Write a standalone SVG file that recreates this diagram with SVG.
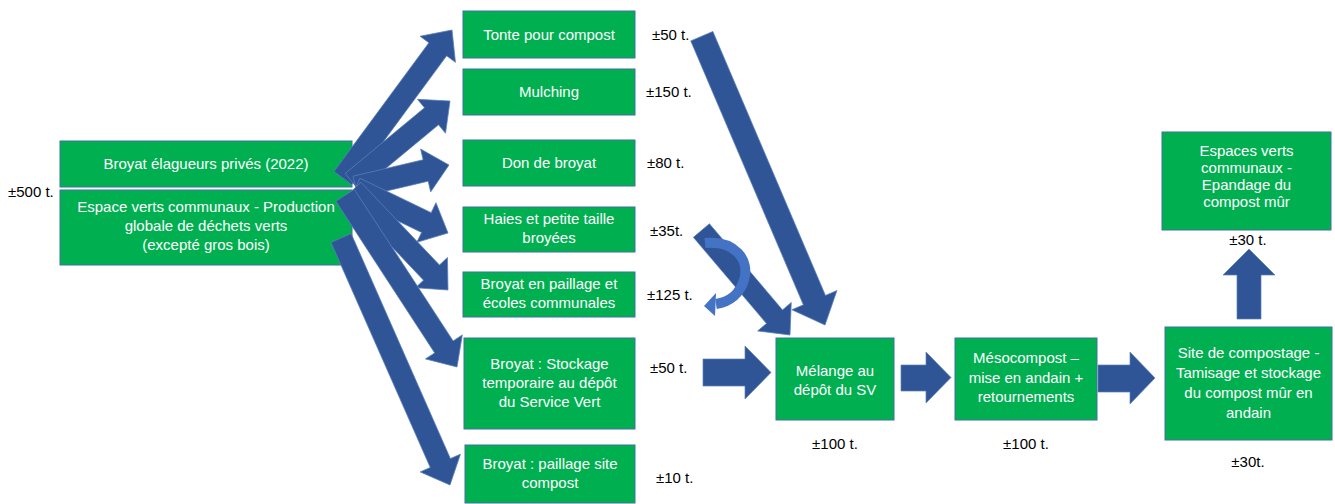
<svg xmlns="http://www.w3.org/2000/svg" width="1335" height="504" viewBox="0 0 1335 504">
<style>
.box{fill:#00b050;stroke:#41719c;stroke-width:1}
.bt{font-family:"Liberation Sans",Arial,sans-serif;font-size:15px;fill:#ffffff;text-anchor:middle}
.lb{font-family:"Liberation Sans",Arial,sans-serif;font-size:15px;fill:#000000}
.lbc{font-family:"Liberation Sans",Arial,sans-serif;font-size:15px;fill:#000000;text-anchor:middle}
.arr{fill:#2f5597;stroke:#5a7fba;stroke-width:0.7}
</style>
<rect width="1335" height="504" fill="#ffffff"/>

<g id="n-broyat-elagueurs"><rect class="box" x="60" y="141" width="292" height="46"/><text class="bt" x="206" y="169">Broyat élagueurs privés (2022)</text></g>
<g id="n-espace-verts"><rect class="box" x="60" y="190" width="292" height="75"/><text class="bt" x="206" y="212">Espace verts communaux  - Production</text><text class="bt" x="206" y="231">globale de déchets verts</text><text class="bt" x="206" y="250">(excepté gros bois)</text></g>
<text class="lb" x="8" y="197">±500 t.</text>

<g id="n-tonte"><rect class="box" x="463" y="11" width="172" height="47"/><text class="bt" x="549" y="40">Tonte pour compost</text></g>
<g id="n-mulching"><rect class="box" x="463" y="69" width="172" height="46"/><text class="bt" x="549" y="97">Mulching</text></g>
<g id="n-don"><rect class="box" x="463" y="140" width="172" height="46"/><text class="bt" x="549" y="168">Don de broyat</text></g>
<g id="n-haies"><rect class="box" x="463" y="207" width="172" height="45"/><text class="bt" x="549" y="224">Haies et petite taille</text><text class="bt" x="549" y="243">broyées</text></g>
<g id="n-paillage-ecoles"><rect class="box" x="463" y="272" width="172" height="45"/><text class="bt" x="549" y="289">Broyat en paillage et</text><text class="bt" x="549" y="308">écoles communales</text></g>
<g id="n-stockage"><rect class="box" x="464" y="338" width="171" height="91"/><text class="bt" x="549.5" y="369">Broyat : Stockage</text><text class="bt" x="549.5" y="388">temporaire au dépôt</text><text class="bt" x="549.5" y="407">du Service Vert</text></g>
<g id="n-paillage-site"><rect class="box" x="465" y="445" width="170" height="58"/><text class="bt" x="550" y="469">Broyat : paillage site</text><text class="bt" x="550" y="488">compost</text></g>

<text class="lb" x="652" y="40">±50 t.</text>
<text class="lb" x="646" y="97">±150 t.</text>
<text class="lb" x="647" y="168">±80 t.</text>
<text class="lb" x="650" y="236">±35t.</text>
<text class="lb" x="647" y="300">±125 t.</text>
<text class="lb" x="650" y="373">±50 t.</text>
<text class="lb" x="656" y="483">±10 t.</text>

<g id="n-melange"><rect class="box" x="776" y="338" width="118" height="82"/><text class="bt" x="835" y="376">Mélange au</text><text class="bt" x="835" y="395">dépôt du SV</text></g>
<text class="lbc" x="835" y="449">±100 t.</text>
<g id="n-meso"><rect class="box" x="955" y="338" width="142" height="82"/><text class="bt" x="1026" y="363">Mésocompost  –</text><text class="bt" x="1026" y="382.5">mise en andain +</text><text class="bt" x="1026" y="402">retournements</text></g>
<text class="lbc" x="1026" y="449">±100 t.</text>
<g id="n-site"><rect class="box" x="1165" y="327" width="167" height="113"/><text class="bt" x="1248.5" y="358">Site de compostage -</text><text class="bt" x="1248.5" y="378">Tamisage et stockage</text><text class="bt" x="1248.5" y="398">du compost mûr  en</text><text class="bt" x="1248.5" y="418">andain</text></g>
<text class="lbc" x="1248" y="467">±30t.</text>
<g id="n-espaces-epandage"><rect class="box" x="1162" y="132" width="169" height="98"/><text class="bt" x="1246.5" y="156">Espaces verts</text><text class="bt" x="1246.5" y="173">communaux  -</text><text class="bt" x="1246.5" y="190">Epandage du</text><text class="bt" x="1246.5" y="207">compost mûr</text></g>
<text class="lbc" x="1248" y="245">±30 t.</text>

<g id="connectors">
<polygon class="arr" transform="translate(452,30) rotate(-53.6)" points="-184,-11 -24,-11 -24,-22 0,0 -24,22 -24,11 -184,11"/>
<polygon class="arr" transform="translate(450,101) rotate(-39.6)" points="-127,-11 -24,-11 -24,-22 0,0 -24,22 -24,11 -127,11"/>
<polygon class="arr" transform="translate(449,165) rotate(-13.2)" points="-96,-11 -24,-11 -24,-22 0,0 -24,22 -24,11 -96,11"/>
<polygon class="arr" transform="translate(448,233) rotate(25.8)" points="-103,-11 -24,-11 -24,-22 0,0 -24,22 -24,11 -103,11"/>
<polygon class="arr" transform="translate(448,290) rotate(46.5)" points="-138,-11 -24,-11 -24,-22 0,0 -24,22 -24,11 -138,11"/>
<polygon class="arr" transform="translate(457,367) rotate(56.9)" points="-205,-11 -24,-11 -24,-22 0,0 -24,22 -24,11 -205,11"/>
<polygon class="arr" transform="translate(450,485) rotate(66.2)" points="-270,-11 -24,-11 -24,-22 0,0 -24,22 -24,11 -270,11"/>

<polygon class="arr" transform="translate(825,325) rotate(66.9)" points="-314,-12 -27,-12 -27,-24.5 0,0 -27,24.5 -27,12 -314,12"/>
<polygon class="arr" transform="translate(790,335) rotate(49.7)" points="-137,-10.5 -24,-10.5 -24,-22 0,0 -24,22 -24,10.5 -137,10.5"/>

<path d="M705,243 C735,240 750,260 744,280 C740,293 730,302 716,304" fill="none" stroke="#4472c4" stroke-width="10"/>
<polygon points="704,306 716,293 715,316" fill="#4472c4"/>

<polygon class="arr" points="703,359 745,359 745,346 771,372.5 745,399 745,386 703,386"/>
<polygon class="arr" points="901,365 926,365 926,352 951,377.5 926,403 926,391 901,391"/>
<polygon class="arr" points="1098,365 1130,365 1130,352 1155,378 1130,404 1130,392 1098,392"/>
<polygon class="arr" points="1237,319 1237,275 1223,275 1249,249 1275,275 1261,275 1261,319"/>
</g>
</svg>
